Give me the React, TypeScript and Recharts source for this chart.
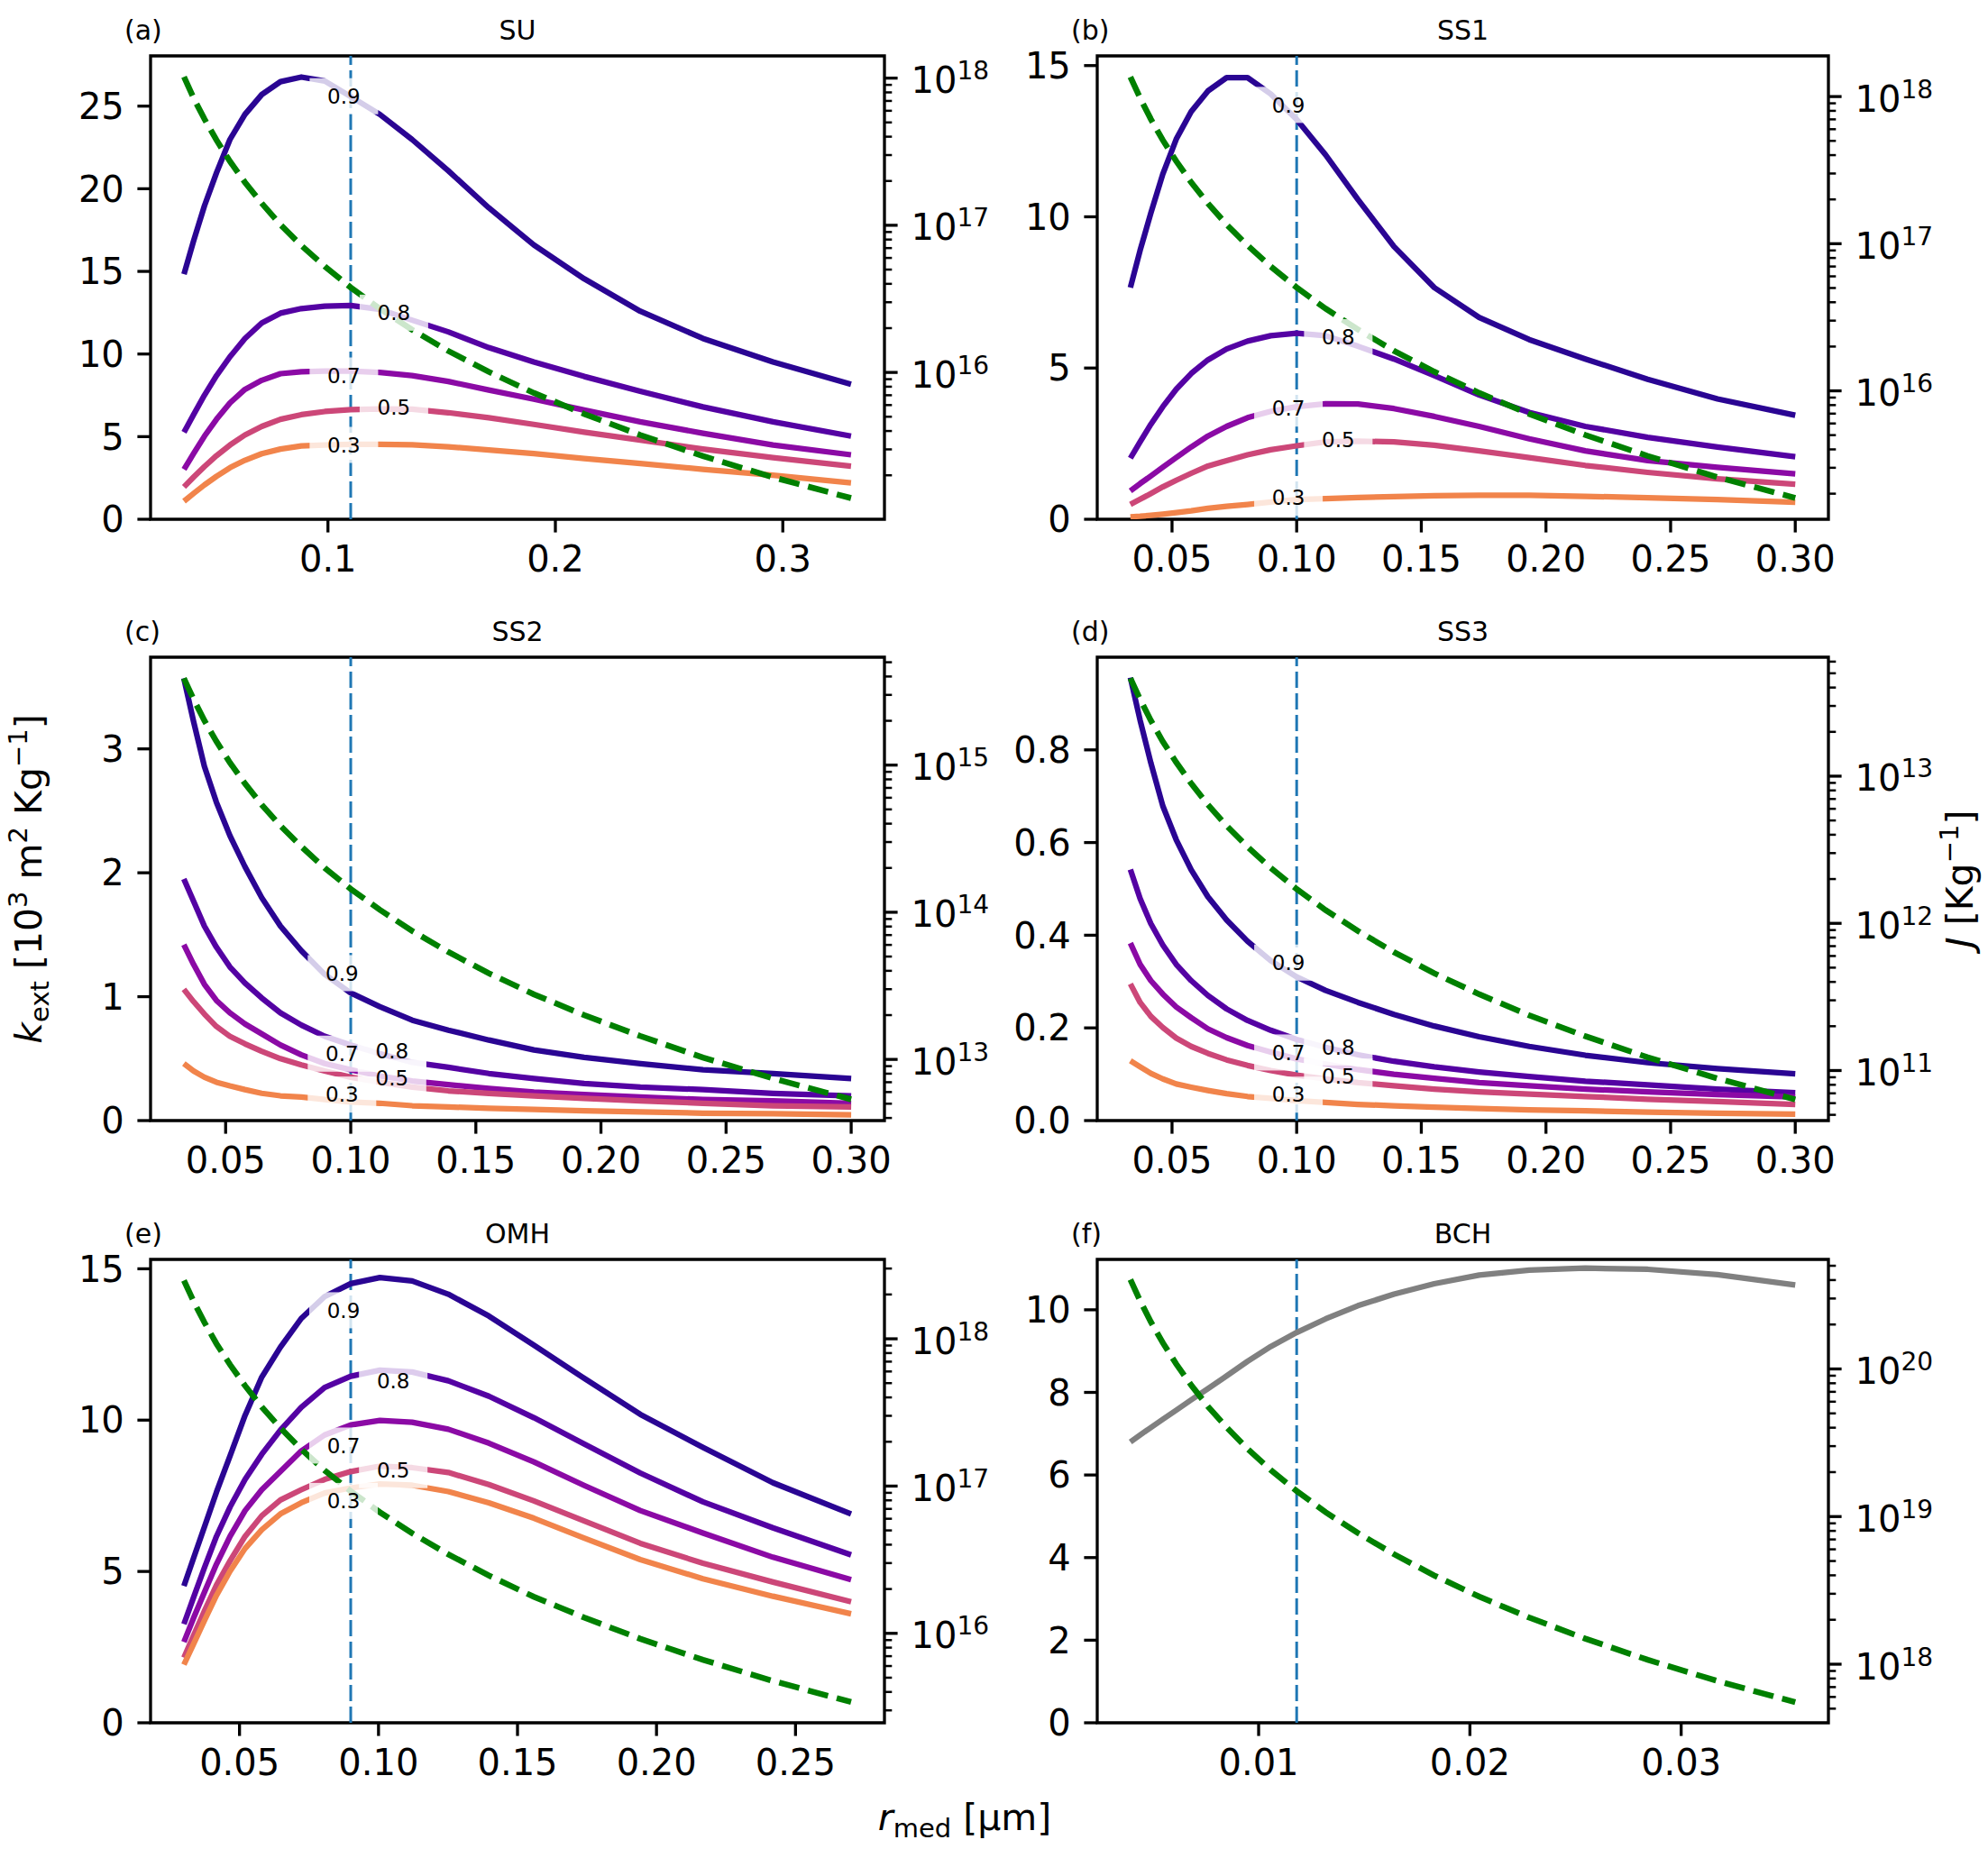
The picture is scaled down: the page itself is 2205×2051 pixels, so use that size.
import React from 'react';
import {
  LineChart,
  Line,
  XAxis,
  YAxis,
  ReferenceLine,
  ReferenceDot,
  ReferenceArea,
} from 'recharts';

const FONT = '"DejaVu Sans", sans-serif';
// space round each plot area for the axes
const ML = 150;
const MR = 210;
const MT = 70;
const MB = 100;
const H = 514;

// r_med samples [µm]
const rSU = [0.0367, 0.0409, 0.0457, 0.051, 0.0569, 0.0635, 0.0709, 0.0791, 0.0883, 0.0986, 0.11, 0.1228, 0.137, 0.1529, 0.1707, 0.1905, 0.2127, 0.2373, 0.2649, 0.2957, 0.33];
const rSS = [0.0333, 0.0372, 0.0415, 0.0463, 0.0517, 0.0577, 0.0644, 0.0719, 0.0803, 0.0896, 0.1, 0.1116, 0.1246, 0.139, 0.1552, 0.1732, 0.1933, 0.2158, 0.2408, 0.2688, 0.3];
const rOMH = [0.03, 0.0335, 0.0374, 0.0417, 0.0466, 0.052, 0.058, 0.0647, 0.0722, 0.0806, 0.09, 0.1005, 0.1121, 0.1251, 0.1397, 0.1559, 0.174, 0.1942, 0.2167, 0.2419, 0.27];
const rBCH = [0.00393, 0.00439, 0.0049, 0.00547, 0.0061, 0.00681, 0.0076, 0.00849, 0.00947, 0.01057, 0.0118, 0.01317, 0.0147, 0.01641, 0.01831, 0.02044, 0.02281, 0.02546, 0.02842, 0.03172, 0.0354];

// k_ext [10^3 m2 Kg-1], one list per humidity
const suK9 = [14.83, 16.84, 18.97, 20.97, 22.98, 24.5, 25.7, 26.48, 26.76, 26.52, 25.58, 24.5, 22.98, 21.09, 18.85, 16.6, 14.55, 12.59, 10.94, 9.52, 8.17];
const suK8 = [5.27, 6.33, 7.51, 8.69, 9.83, 10.94, 11.88, 12.47, 12.75, 12.9, 12.94, 12.7, 12.05, 11.34, 10.39, 9.52, 8.64, 7.75, 6.8, 5.9, 5.03];
const suK7 = [3.02, 3.97, 5.03, 6.05, 7.04, 7.86, 8.41, 8.81, 8.93, 8.97, 8.97, 8.88, 8.69, 8.34, 7.82, 7.27, 6.61, 5.9, 5.2, 4.49, 3.9];
const suK5 = [1.96, 2.55, 3.19, 3.85, 4.49, 5.1, 5.62, 6.05, 6.33, 6.52, 6.64, 6.68, 6.66, 6.45, 6.14, 5.74, 5.27, 4.79, 4.25, 3.73, 3.21];
const suK3 = [1.09, 1.56, 2.08, 2.6, 3.12, 3.57, 3.97, 4.25, 4.44, 4.49, 4.53, 4.53, 4.51, 4.39, 4.2, 3.97, 3.68, 3.38, 3.02, 2.67, 2.2];
const suJ = [1.02e18, 7.33e17, 5.27e17, 3.79e17, 2.72e17, 1.96e17, 1.41e17, 1.01e17, 7.29e16, 5.25e16, 3.78e16, 2.71e16, 1.95e16, 1.4e16, 1.01e16, 7.26e15, 5.22e15, 3.76e15, 2.7e15, 1.94e15, 1.4e15];

const ss1K9 = [7.66, 8.89, 10.12, 11.41, 12.57, 13.48, 14.16, 14.6, 14.6, 14.06, 13.22, 12.05, 10.57, 9.02, 7.66, 6.67, 5.94, 5.3, 4.63, 3.98, 3.44];
const ss1K8 = [2.02, 2.56, 3.14, 3.72, 4.3, 4.82, 5.27, 5.63, 5.89, 6.07, 6.15, 6.07, 5.72, 5.3, 4.75, 4.11, 3.53, 3.07, 2.71, 2.39, 2.07];
const ss1K7 = [0.94, 1.18, 1.43, 1.72, 2.04, 2.39, 2.75, 3.07, 3.36, 3.57, 3.72, 3.82, 3.81, 3.66, 3.4, 3.07, 2.66, 2.26, 1.94, 1.72, 1.5];
const ss1K5 = [0.49, 0.66, 0.85, 1.07, 1.29, 1.52, 1.76, 1.94, 2.13, 2.3, 2.43, 2.56, 2.58, 2.56, 2.45, 2.26, 2.04, 1.78, 1.55, 1.34, 1.16];
const ss1K3 = [0.08, 0.1, 0.13, 0.17, 0.22, 0.28, 0.36, 0.43, 0.49, 0.57, 0.65, 0.68, 0.72, 0.75, 0.78, 0.79, 0.79, 0.76, 0.71, 0.65, 0.56];
const ss1J = [1.36e18, 9.77e17, 7.03e17, 5.06e17, 3.64e17, 2.61e17, 1.88e17, 1.35e17, 9.73e16, 7.0e16, 5.04e16, 3.62e16, 2.61e16, 1.87e16, 1.35e16, 9.68e15, 6.97e15, 5.01e15, 3.61e15, 2.59e15, 1.87e15];

const ss2K9 = [3.57, 3.22, 2.86, 2.57, 2.3, 2.05, 1.8, 1.57, 1.37, 1.18, 1.03, 0.92, 0.81, 0.73, 0.65, 0.57, 0.51, 0.46, 0.41, 0.38, 0.34];
const ss2K8 = [1.95, 1.77, 1.57, 1.4, 1.24, 1.11, 0.99, 0.87, 0.77, 0.68, 0.61, 0.54, 0.47, 0.43, 0.38, 0.34, 0.3, 0.27, 0.25, 0.22, 0.2];
const ss2K7 = [1.42, 1.26, 1.1, 0.97, 0.87, 0.78, 0.7, 0.61, 0.53, 0.46, 0.41, 0.36, 0.32, 0.29, 0.26, 0.23, 0.21, 0.19, 0.17, 0.16, 0.14];
const ss2K5 = [1.06, 0.96, 0.86, 0.76, 0.68, 0.62, 0.56, 0.5, 0.45, 0.4, 0.35, 0.31, 0.27, 0.24, 0.22, 0.2, 0.18, 0.16, 0.14, 0.12, 0.11];
const ss2K3 = [0.46, 0.4, 0.35, 0.31, 0.28, 0.25, 0.22, 0.2, 0.19, 0.17, 0.15, 0.14, 0.12, 0.11, 0.1, 0.09, 0.08, 0.07, 0.06, 0.055, 0.046];
const ss2J = [3.89e15, 2.8e15, 2.01e15, 1.45e15, 1.04e15, 7.5e14, 5.38e14, 3.87e14, 2.79e14, 2.0e14, 1.44e14, 1.04e14, 7.46e13, 5.37e13, 3.85e13, 2.77e13, 2.0e13, 1.44e13, 1.03e13, 7.43e12, 5.35e12];

const ss3K9 = [0.956, 0.864, 0.772, 0.679, 0.606, 0.541, 0.483, 0.433, 0.387, 0.345, 0.31, 0.281, 0.255, 0.229, 0.204, 0.181, 0.16, 0.141, 0.125, 0.112, 0.101];
const ss3K8 = [0.542, 0.479, 0.425, 0.379, 0.337, 0.302, 0.27, 0.241, 0.216, 0.195, 0.175, 0.158, 0.142, 0.128, 0.116, 0.105, 0.095, 0.085, 0.077, 0.068, 0.06];
const ss3K7 = [0.383, 0.337, 0.302, 0.273, 0.245, 0.222, 0.198, 0.179, 0.162, 0.148, 0.133, 0.122, 0.11, 0.1, 0.091, 0.082, 0.075, 0.068, 0.062, 0.056, 0.051];
const ss3K5 = [0.295, 0.255, 0.225, 0.201, 0.178, 0.16, 0.145, 0.131, 0.119, 0.108, 0.098, 0.09, 0.082, 0.075, 0.068, 0.062, 0.057, 0.052, 0.046, 0.041, 0.035];
const ss3K3 = [0.129, 0.116, 0.102, 0.09, 0.079, 0.072, 0.065, 0.058, 0.052, 0.048, 0.043, 0.039, 0.035, 0.032, 0.029, 0.026, 0.023, 0.021, 0.018, 0.016, 0.014];
const ss3J = [4.62e13, 3.33e13, 2.39e13, 1.72e13, 1.24e13, 8.91e12, 6.4e12, 4.6e12, 3.31e12, 2.38e12, 1.71e12, 1.23e12, 8.87e11, 6.38e11, 4.58e11, 3.3e11, 2.37e11, 1.71e11, 1.23e11, 8.83e10, 6.35e10];

const omhK9 = [4.52, 5.45, 6.48, 7.62, 8.82, 10.16, 11.42, 12.41, 13.36, 14.08, 14.51, 14.71, 14.6, 14.16, 13.44, 12.48, 11.38, 10.19, 9.1, 7.93, 6.9];
const omhK8 = [3.26, 4.15, 5.13, 6.16, 7.13, 8.04, 8.87, 9.67, 10.42, 11.08, 11.45, 11.65, 11.59, 11.3, 10.79, 10.08, 9.21, 8.25, 7.3, 6.44, 5.55];
const omhK7 = [2.67, 3.47, 4.32, 5.24, 6.16, 7.01, 7.7, 8.3, 8.98, 9.51, 9.84, 9.99, 9.93, 9.7, 9.24, 8.62, 7.84, 7.01, 6.27, 5.47, 4.73];
const omhK5 = [2.15, 2.89, 3.7, 4.55, 5.35, 6.16, 6.84, 7.36, 7.7, 8.04, 8.3, 8.48, 8.43, 8.27, 7.87, 7.33, 6.67, 5.93, 5.27, 4.65, 4.0];
const omhK3 = [1.92, 2.61, 3.38, 4.21, 5.01, 5.76, 6.38, 6.9, 7.27, 7.59, 7.76, 7.89, 7.85, 7.64, 7.27, 6.76, 6.1, 5.39, 4.76, 4.18, 3.6];
const omhJ = [2.49e18, 1.79e18, 1.29e18, 9.27e17, 6.67e17, 4.8e17, 3.44e17, 2.48e17, 1.78e17, 1.28e17, 9.23e16, 6.64e16, 4.78e16, 3.44e16, 2.47e16, 1.77e16, 1.28e16, 9.18e15, 6.61e15, 4.75e15, 3.42e15];

const bchK = [6.8, 6.97, 7.15, 7.35, 7.57, 7.82, 8.09, 8.4, 8.75, 9.11, 9.45, 9.78, 10.1, 10.38, 10.63, 10.84, 10.96, 11.01, 10.98, 10.85, 10.6];
const bchJ = [4.03e20, 2.9e20, 2.08e20, 1.5e20, 1.08e20, 7.76e19, 5.57e19, 4.01e19, 2.88e19, 2.07e19, 1.49e19, 1.07e19, 7.73e18, 5.56e18, 3.99e18, 2.87e18, 2.07e18, 1.49e18, 1.07e18, 7.69e17, 5.53e17];

// inline line labels
const rhNames = ['0.9', '0.8', '0.7', '0.5', '0.3'];
const rhColors = ['#2a0593', '#5402a3', '#8b0aa5', '#cc4778', '#f1844b'];
const suLabR = [0.107, 0.129, 0.107, 0.129, 0.107];
const suLabK = [25.6, 12.5, 8.7, 6.8, 4.5];
const ss1LabR = [0.0967, 0.1167, 0.0967, 0.1167, 0.0967];
const ss1LabK = [13.7, 6.02, 3.66, 2.62, 0.71];
const ss2LabR = [0.0965, 0.1165, 0.0965, 0.1165, 0.0965];
const ss2LabK = [1.19, 0.56, 0.54, 0.347, 0.21];
const ss3LabR = [0.0967, 0.1167, 0.0967, 0.1167, 0.0967];
const ss3LabK = [0.341, 0.158, 0.147, 0.095, 0.056];
const omhLabR = [0.0874, 0.1053, 0.0874, 0.1053, 0.0874];
const omhLabK = [13.63, 11.3, 9.16, 8.35, 7.33];

type PanelDef = {
  tag: string;
  name: string;
  left: number;
  top: number;
  width: number;
  r: number[];
  k: number[][];
  colors: string[];
  J: number[];
  labR: number[];
  labK: number[];
  xDomain: [number, number];
  xTicks: number[];
  xDigits: number;
  kTop: number;
  kTicks: number[];
  kDigits: number;
  jDomain: [number, number];
  vline: number;
};

const COL1 = 167;
const COL2 = 1217;
const ROW1 = 62;
const ROW2 = 729;
const ROW3 = 1397;
const ssTicks = [0.05, 0.1, 0.15, 0.2, 0.25, 0.3];

const panels: PanelDef[] = [
  {
    tag: '(a)', name: 'SU', left: COL1, top: ROW1, width: 814,
    r: rSU, k: [suK9, suK8, suK7, suK5, suK3], colors: rhColors, J: suJ,
    labR: suLabR, labK: suLabK,
    xDomain: [0.022, 0.3447], xTicks: [0.1, 0.2, 0.3], xDigits: 1,
    kTop: 28.04, kTicks: [0, 5, 10, 15, 20, 25], kDigits: 0,
    jDomain: [1.005e15, 1.416e18], vline: 0.11,
  },
  {
    tag: '(b)', name: 'SS1', left: COL2, top: ROW1, width: 811,
    r: rSS, k: [ss1K9, ss1K8, ss1K7, ss1K5, ss1K3], colors: rhColors, J: ss1J,
    labR: ss1LabR, labK: ss1LabK,
    xDomain: [0.02, 0.3133], xTicks: ssTicks, xDigits: 2,
    kTop: 15.32, kTicks: [0, 5, 10, 15], kDigits: 0,
    jDomain: [1.34e15, 1.89e18], vline: 0.1,
  },
  {
    tag: '(c)', name: 'SS2', left: COL1, top: ROW2, width: 814,
    r: rSS, k: [ss2K9, ss2K8, ss2K7, ss2K5, ss2K3], colors: rhColors, J: ss2J,
    labR: ss2LabR, labK: ss2LabK,
    xDomain: [0.02, 0.3133], xTicks: ssTicks, xDigits: 2,
    kTop: 3.74, kTicks: [0, 1, 2, 3], kDigits: 0,
    jDomain: [3.84e12, 5.41e15], vline: 0.1,
  },
  {
    tag: '(d)', name: 'SS3', left: COL2, top: ROW2, width: 811,
    r: rSS, k: [ss3K9, ss3K8, ss3K7, ss3K5, ss3K3], colors: rhColors, J: ss3J,
    labR: ss3LabR, labK: ss3LabK,
    xDomain: [0.02, 0.3133], xTicks: ssTicks, xDigits: 2,
    kTop: 1.0, kTicks: [0, 0.2, 0.4, 0.6, 0.8], kDigits: 1,
    jDomain: [4.57e10, 6.43e13], vline: 0.1,
  },
  {
    tag: '(e)', name: 'OMH', left: COL1, top: ROW3, width: 814,
    r: rOMH, k: [omhK9, omhK8, omhK7, omhK5, omhK3], colors: rhColors, J: omhJ,
    labR: omhLabR, labK: omhLabK,
    xDomain: [0.018, 0.282], xTicks: [0.05, 0.1, 0.15, 0.2, 0.25], xDigits: 2,
    kTop: 15.31, kTicks: [0, 5, 10, 15], kDigits: 0,
    jDomain: [2.47e15, 3.46e18], vline: 0.09,
  },
  {
    tag: '(f)', name: 'BCH', left: COL2, top: ROW3, width: 811,
    r: rBCH, k: [bchK], colors: ['#808080'], J: bchJ,
    labR: [], labK: [],
    xDomain: [0.00236, 0.03697], xTicks: [0.01, 0.02, 0.03], xDigits: 2,
    kTop: 11.22, kTicks: [0, 2, 4, 6, 8, 10], kDigits: 0,
    jDomain: [4.01e17, 5.52e20], vline: 0.0118,
  },
];

// major and minor ticks of a log axis
function logTicks(lo: number, hi: number) {
  const out: number[] = [];
  for (let e = Math.floor(Math.log10(lo)); e <= Math.ceil(Math.log10(hi)); e++) {
    for (let m = 1; m <= 9; m++) {
      const v = m * Math.pow(10, e);
      if (v >= lo && v <= hi) out.push(v);
    }
  }
  return out;
}

function LogTick(props: any) {
  const { x, y, payload } = props;
  const lg = Math.log10(payload.value);
  const e = Math.round(lg);
  if (Math.abs(lg - e) > 1e-6) {
    return <line x1={x} x2={x + 8.3} y1={y} y2={y} stroke="#000" strokeWidth={2.5} />;
  }
  return (
    <g>
      <line x1={x} x2={x + 14.6} y1={y} y2={y} stroke="#000" strokeWidth={3.3} />
      <text x={x + 29.6} y={y + 16.5} fontSize={40} fontFamily={FONT} fill="#000">
        10
        <tspan dy={-15} fontSize={28}>{e}</tspan>
      </text>
    </g>
  );
}

// white half-transparent box with the humidity written on the line
const labelShape = (text: string) => (p: any) => (
  <g>
    <rect x={p.cx - 38} y={p.cy - 20} width={76} height={40} fill="#fff" fillOpacity={0.8} />
    <text x={p.cx} y={p.cy} dy="0.36em" textAnchor="middle" fontSize={23} fontFamily={FONT} fill="#000">
      {text}
    </text>
  </g>
);

const tickFont = { fontSize: 40, fill: '#000', fontFamily: FONT };
const tickStroke = { stroke: '#000', strokeWidth: 3.3 };

function Panel({ p }: { p: PanelDef }) {
  const data = p.r.map((r, i) => {
    const row: Record<string, number> = { r, J: p.J[i] };
    p.k.forEach((s, j) => {
      row['k' + j] = s[i];
    });
    return row;
  });
  // lowest humidity label first, so higher ones sit on top
  const order = p.labR.map((_, j) => j).reverse();

  return (
    <div style={{ position: 'absolute', left: p.left - ML, top: p.top - MT }}>
      <LineChart
        width={p.width + ML + MR}
        height={H + MT + MB}
        data={data}
        margin={{ top: MT, right: 0, bottom: 0, left: 0 }}
      >
        <XAxis
          type="number"
          dataKey="r"
          domain={p.xDomain}
          allowDataOverflow
          ticks={p.xTicks}
          interval={0}
          tickFormatter={(v: number) => v.toFixed(p.xDigits)}
          height={MB}
          axisLine={false}
          tickLine={tickStroke}
          tickSize={14.6}
          tickMargin={15}
          tick={tickFont}
        />
        <YAxis
          yAxisId="k"
          type="number"
          domain={[0, p.kTop]}
          allowDataOverflow
          ticks={p.kTicks}
          interval={0}
          tickFormatter={(v: number) => v.toFixed(p.kDigits)}
          width={ML}
          axisLine={false}
          tickLine={tickStroke}
          tickSize={14.6}
          tickMargin={14.6}
          tick={tickFont}
        />
        <YAxis
          yAxisId="J"
          orientation="right"
          type="number"
          scale="log"
          domain={p.jDomain}
          allowDataOverflow
          ticks={logTicks(p.jDomain[0], p.jDomain[1])}
          interval={0}
          tick={<LogTick />}
          tickLine={false}
          tickSize={0}
          tickMargin={0}
          axisLine={false}
          width={MR}
        />
        <ReferenceLine
          yAxisId="k"
          x={p.vline}
          stroke="#1f77b4"
          strokeWidth={3}
          strokeDasharray="18 6"
        />
        {p.k.map((_, j) => (
          <Line
            key={j}
            yAxisId="k"
            type="linear"
            dataKey={'k' + j}
            stroke={p.colors[j]}
            strokeWidth={6.25}
            strokeLinejoin="round"
            dot={false}
            activeDot={false}
            isAnimationActive={false}
          />
        ))}
        {order.map((j) => (
          <ReferenceDot
            key={'lab' + j}
            yAxisId="k"
            x={p.labR[j]}
            y={p.labK[j]}
            r={1}
            ifOverflow="visible"
            shape={labelShape(rhNames[j])}
          />
        ))}
        <Line
          yAxisId="J"
          type="linear"
          dataKey="J"
          stroke="#008000"
          strokeWidth={6.5}
          strokeDasharray="23 10"
          dot={false}
          activeDot={false}
          isAnimationActive={false}
        />
        <ReferenceArea
          yAxisId="k"
          x1={p.xDomain[0]}
          x2={p.xDomain[1]}
          y1={0}
          y2={p.kTop}
          fill="none"
          fillOpacity={0}
          stroke="#000"
          strokeWidth={3.3}
          ifOverflow="visible"
        />
      </LineChart>
    </div>
  );
}

export default function App() {
  return (
    <div
      style={{
        position: 'relative',
        width: 2205,
        height: 2051,
        background: '#fff',
        fontFamily: FONT,
        overflow: 'hidden',
      }}
    >
      <style>{'body{margin:0}'}</style>
      {panels.map((p) => (
        <Panel key={p.tag} p={p} />
      ))}
      <svg
        width={2205}
        height={2051}
        style={{ position: 'absolute', left: 0, top: 0, pointerEvents: 'none' }}
        fontFamily={FONT}
      >
        {panels.map((p) => (
          <g key={p.tag}>
            <text x={p.left - 29} y={p.top - 18.5} fontSize={30} fill="#000">
              {p.tag}
            </text>
            <text x={p.left + p.width / 2} y={p.top - 18.5} fontSize={30} textAnchor="middle" fill="#000">
              {p.name}
            </text>
          </g>
        ))}
        <text transform="translate(46,975) rotate(-90)" textAnchor="middle" fontSize={41} fill="#000">
          <tspan fontStyle="italic">k</tspan>
          <tspan fontSize={29} dy={8}>ext</tspan>
          <tspan dy={-8}>{' [10'}</tspan>
          <tspan fontSize={29} dy={-16}>3</tspan>
          <tspan dy={16}>{' m'}</tspan>
          <tspan fontSize={29} dy={-16}>2</tspan>
          <tspan dy={16}>{' Kg'}</tspan>
          <tspan fontSize={29} dy={-16}>−1</tspan>
          <tspan dy={16}>]</tspan>
        </text>
        <text transform="translate(2188,975) rotate(-90)" textAnchor="middle" fontSize={41} fill="#000">
          <tspan fontStyle="italic">J</tspan>
          <tspan>{' [Kg'}</tspan>
          <tspan fontSize={29} dy={-16}>−1</tspan>
          <tspan dy={16}>]</tspan>
        </text>
        <text x={1070} y={2030} textAnchor="middle" fontSize={41} fill="#000">
          <tspan fontStyle="italic">r</tspan>
          <tspan fontSize={29} dy={8}>med</tspan>
          <tspan dy={-8}>{' [µm]'}</tspan>
        </text>
      </svg>
    </div>
  );
}
